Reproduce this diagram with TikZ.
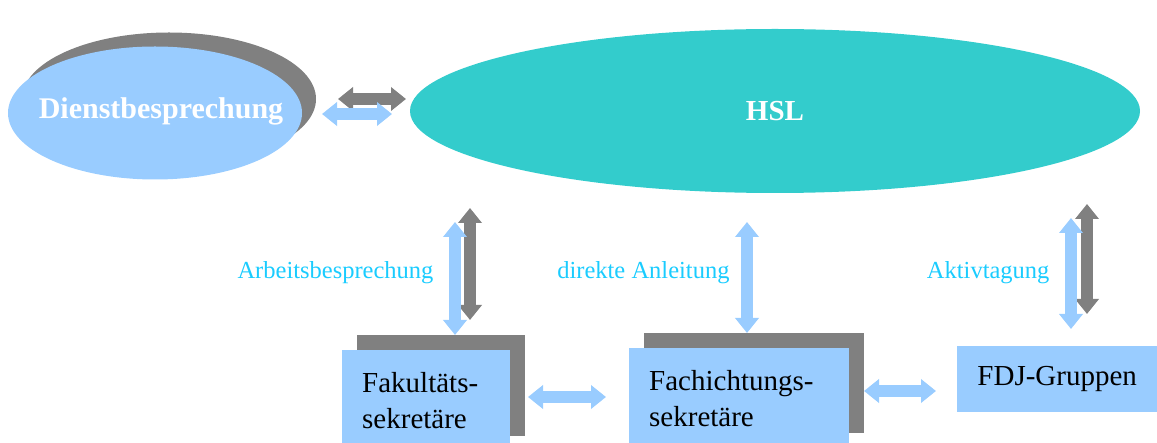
\documentclass[tikz,border=0pt]{standalone}
\usepackage{fontspec}
\setmainfont{Liberation Serif}
\usepackage{tikz}
\usetikzlibrary{shapes.geometric,arrows.meta}

\definecolor{hellblau}{HTML}{99CCFF}
\definecolor{schatten}{HTML}{808080}
\definecolor{tuerkis}{HTML}{33CCCC}
\definecolor{textcyan}{HTML}{1ACCFF}

\tikzset{
  pfeil/.style={line width=12pt,{Triangle[width=23pt,length=15pt]}-{Triangle[width=23pt,length=15pt]}},
  kasten/.style={rectangle,fill=hellblau,inner sep=0pt,anchor=north west,align=left,font=\fontsize{29}{36}\selectfont},
  kastenschatten/.style={rectangle,fill=schatten,inner sep=0pt,anchor=north west},
  beschriftung/.style={text=textcyan,font=\fontsize{24.5}{28}\selectfont}
}

\begin{document}
\begin{tikzpicture}[x=1pt,y=-1pt]
\useasboundingbox (0,0) rectangle (1157,443);

% Ellipsen oben
\node[ellipse,fill=schatten,minimum width=294pt,minimum height=133pt,inner sep=0pt] (dienstschatten) at (169,99) {};
\node[ellipse,fill=hellblau,minimum width=294pt,minimum height=133pt,inner sep=0pt] (dienst) at (155,113) {};
\node[text=white,font=\bfseries\fontsize{30}{30}\selectfont] (dienstlabel) at (161,111) {Dienstbesprechung};
\node[ellipse,fill=tuerkis,minimum width=730pt,minimum height=164pt,inner sep=0pt,text=white,font=\bfseries\fontsize{29}{29}\selectfont] (hsl) at (775,111) {HSL};

% Kaesten unten
\node[kastenschatten,minimum width=168pt,minimum height=101pt] (fakschatten) at (357,335) {};
\node[kasten,minimum width=168pt,minimum height=101pt,text width=128pt,inner xsep=20pt] (fak) at (342,350) {Fakultäts-\\sekretäre};
\node[kastenschatten,minimum width=220pt,minimum height=100pt] (fachschatten) at (644,333) {};
\node[kasten,minimum width=220pt,minimum height=100pt,text width=180pt,inner xsep=20pt] (fach) at (629,348) {Fachichtungs-\\sekretäre};
\node[kasten,minimum width=200pt,minimum height=66pt,align=center] (fdj) at (957,346) {FDJ-Gruppen};

% Endpunkte der Pfeile
\coordinate (dhs1) at (338,99);  \coordinate (dhs2) at (406,99);
\coordinate (dh1) at (322,114);  \coordinate (dh2) at (392,114);
\coordinate (hfs1) at (470,208); \coordinate (hfs2) at (470,320);
\coordinate (hf1) at (455,222);  \coordinate (hf2) at (455,335);
\coordinate (hfa1) at (747,222); \coordinate (hfa2) at (747,333);
\coordinate (hgs1) at (1087,204); \coordinate (hgs2) at (1087,314);
\coordinate (hg1) at (1071,218); \coordinate (hg2) at (1071,329);
\coordinate (ff1) at (528,397);  \coordinate (ff2) at (606,397);
\coordinate (fg1) at (864,391);  \coordinate (fg2) at (936,391);

\draw[pfeil,schatten] (dhs1) -- (dhs2);
\draw[pfeil,hellblau] (dh1) -- (dh2);
\draw[pfeil,schatten] (hfs1) -- (hfs2);
\draw[pfeil,hellblau] (hf1) -- (hf2);
\draw[pfeil,hellblau] (hfa1) -- (hfa2);
\draw[pfeil,schatten] (hgs1) -- (hgs2);
\draw[pfeil,hellblau] (hg1) -- (hg2);
\draw[pfeil,hellblau] (ff1) -- (ff2);
\draw[pfeil,hellblau] (fg1) -- (fg2);

% Beschriftungen
\node[beschriftung,anchor=base east] (arbeit) at (437,279) {Arbeitsbesprechung};
\node[beschriftung,anchor=base east] (anleitung) at (733,279) {direkte Anleitung};
\node[beschriftung,anchor=base east] (aktiv) at (1053,279) {Aktivtagung};
\end{tikzpicture}
\end{document}
